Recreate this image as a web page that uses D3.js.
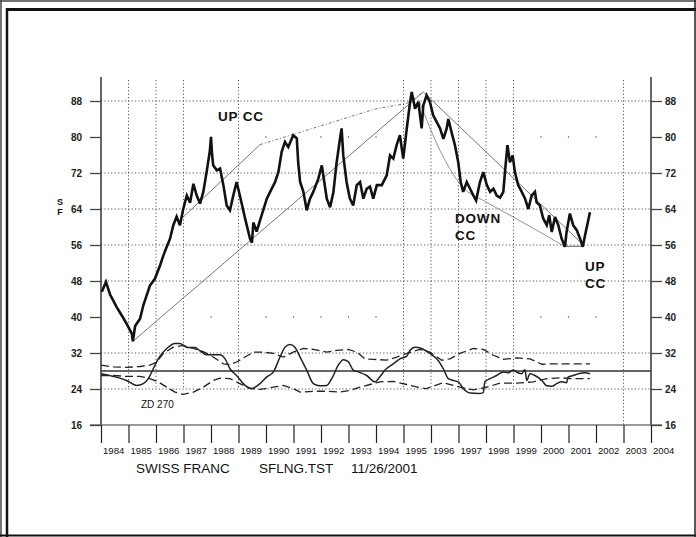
<!DOCTYPE html>
<html><head><meta charset="utf-8">
<script src="https://cdn.jsdelivr.net/npm/d3@7"></script>
<style>
html,body{margin:0;padding:0;background:#fff;}
svg{display:block;font-family:"Liberation Sans",Arial,sans-serif;}
</style></head>
<body>
<svg id="chart" width="696" height="537"></svg>
<script>
// ---------- data ----------
const yearTicks = [1984,1985,1986,1987,1988,1989,1990,1991,1992,1993,1994,1995,1996,1997,1998,1999,2000,2001,2002,2003,2004];
const valueTicks = [16,24,32,40,48,56,64,72,80,88];
const gridYears = [1985,1986,1987,1989,1995,1996,1997,1998,1999,2003];
const dotYears = [1988,1990,1991,1992,1993,1994,2000,2001,2002];
const fullGridValues = [24,32,48,56,64,72,88];
const sparseGridValues = [40,80];

const priceYears = [1984.03,1984.18,1984.33,1984.57,1984.75,1984.93,1985.12,1985.16,1985.24,1985.42,1985.54,1985.66,1985.78,1985.96,1986.15,1986.27,1986.39,1986.51,1986.63,1986.75,1986.87,1986.99,1987.12,1987.24,1987.36,1987.48,1987.6,1987.72,1987.84,1987.96,1988.0,1988.04,1988.08,1988.21,1988.33,1988.45,1988.57,1988.69,1988.81,1988.93,1989.05,1989.24,1989.42,1989.49,1989.54,1989.66,1989.84,1990.03,1990.15,1990.33,1990.45,1990.57,1990.69,1990.81,1990.99,1991.12,1991.17,1991.24,1991.36,1991.48,1991.6,1991.72,1991.9,1992.03,1992.08,1992.21,1992.33,1992.45,1992.57,1992.69,1992.75,1992.81,1992.93,1993.05,1993.17,1993.3,1993.42,1993.54,1993.66,1993.78,1993.9,1994.03,1994.21,1994.39,1994.51,1994.63,1994.75,1994.87,1994.99,1995.12,1995.24,1995.3,1995.42,1995.54,1995.66,1995.72,1995.84,1995.96,1996.08,1996.21,1996.33,1996.45,1996.57,1996.63,1996.75,1996.87,1996.99,1997.08,1997.17,1997.3,1997.42,1997.54,1997.64,1997.78,1997.9,1998.03,1998.15,1998.27,1998.39,1998.51,1998.63,1998.69,1998.78,1998.87,1998.97,1999.05,1999.17,1999.3,1999.42,1999.54,1999.66,1999.78,1999.84,1999.96,2000.08,2000.21,2000.3,2000.39,2000.51,2000.63,2000.75,2000.87,2000.93,2001.05,2001.17,2001.3,2001.42,2001.52,2001.6,2001.68,2001.78];
const priceValues = [45.6,47.8,45.0,42.2,40.4,38.5,36.3,34.6,38.0,39.6,42.6,44.8,47.0,48.5,51.5,53.7,55.6,57.4,60.4,62.3,60.4,64.0,67.0,65.4,69.6,67.0,65.2,67.8,72.2,77.0,80.0,76.0,73.7,72.6,73.0,69.3,64.8,63.7,67.0,70.0,67.0,61.9,57.4,56.5,61.0,59.0,62.6,66.3,67.8,70.0,72.2,76.7,78.9,77.8,80.4,79.7,74.4,70.0,67.8,63.7,66.3,67.8,70.7,73.7,71.6,66.3,64.4,67.7,74.4,79.6,81.9,75.9,70.0,66.3,64.8,69.3,70.0,66.3,68.5,69.0,66.3,69.3,69.3,71.5,75.9,75.2,78.2,80.4,75.2,81.9,87.8,90.0,86.3,87.8,81.9,87.0,89.3,87.8,84.8,83.3,81.9,79.6,81.9,84.0,81.0,78.2,74.4,70.0,67.8,70.0,68.5,67.0,65.9,70.0,72.2,69.3,67.8,68.5,67.0,66.5,67.8,72.2,78.2,74.4,75.9,72.2,69.3,67.8,66.3,64.0,67.0,67.8,65.5,64.8,61.9,60.4,62.6,58.9,62.2,60.4,57.4,55.6,58.9,63.0,60.4,59.3,57.4,55.6,58.1,60.4,63.3];

// trend curves (year, value)
const upLineYears = [1985.16,1995.72];
const upLineValues = [34.6,90.0];
const upCurveYears = [1986.99,1989.78];
const upCurveValues = [62.2,78.3];
const upCurveDotYears = [1989.78,1993.96,1995.13,1995.72];
const upCurveDotValues = [78.3,86.2,87.5,90.0];
const downLineYears = [1995.72,2001.54];
const downLineValues = [90.0,56.0];
const downCurveYears = [1995.56,1996.33,1997.13,1997.96,1998.76,1999.78,2000.8];
const downCurveValues = [88.2,77.0,69.0,65.7,63.0,59.5,55.9];
const baseLineYears = [2000.8,2001.53];
const baseLineValues = [55.7,55.7];

// lower indicator
const zdLevel = 28;
const oscYears = [1984.0,1984.45,1984.93,1985.3,1985.54,1985.72,1985.9,1986.08,1986.39,1986.69,1986.87,1987.05,1987.17,1987.42,1987.6,1987.84,1988.03,1988.33,1988.51,1988.69,1988.93,1989.24,1989.48,1989.78,1990.03,1990.27,1990.51,1990.69,1990.87,1991.05,1991.24,1991.48,1991.72,1991.96,1992.21,1992.39,1992.63,1992.81,1992.99,1993.17,1993.36,1993.66,1993.96,1994.15,1994.33,1994.63,1994.87,1995.12,1995.24,1995.42,1995.66,1995.96,1996.21,1996.45,1996.63,1996.81,1996.99,1997.17,1997.42,1997.72,1997.9,1997.96,1998.15,1998.39,1998.63,1998.81,1998.99,1999.17,1999.3,1999.42,1999.48,1999.6,1999.78,2000.03,2000.21,2000.39,2000.57,2000.75,2000.93,2000.99,2001.17,2001.36,2001.6,2001.78];
const oscValues = [27.4,26.8,25.9,24.8,25.2,26.3,28.5,30.7,33.0,34.1,34.1,33.5,33.2,33.2,32.5,31.6,31.6,31.6,30.7,28.5,27.0,24.8,24.1,25.2,26.7,27.8,31.1,33.3,33.9,33.3,31.1,28.2,25.2,24.7,24.8,26.3,29.3,30.5,30.1,28.2,27.8,27.0,25.6,26.8,28.2,29.6,30.7,31.3,32.6,33.3,33.0,31.9,30.7,28.5,26.3,25.9,25.6,24.1,23.1,23.0,23.2,25.6,26.3,27.0,27.8,27.6,28.2,27.6,27.4,28.3,25.9,27.4,27.0,25.9,24.7,24.6,25.2,25.6,25.4,26.7,27.0,27.4,27.6,27.4];
const upperBandYears = [1984.0,1984.45,1984.93,1985.42,1985.78,1986.03,1986.27,1986.63,1986.99,1987.36,1987.72,1988.08,1988.45,1988.69,1988.93,1989.24,1989.54,1989.9,1990.27,1990.63,1990.99,1991.36,1991.72,1992.21,1992.57,1992.99,1993.3,1993.6,1993.9,1994.39,1994.75,1995.12,1995.6,1995.96,1996.39,1996.69,1997.05,1997.54,1997.9,1998.27,1998.63,1999.12,1999.6,2000.03,2000.45,2000.93,2001.42,2001.78];
const upperBandValues = [29.3,28.9,28.8,29.0,29.3,30.0,31.9,33.3,33.7,33.0,32.3,31.1,29.6,29.4,30.0,31.1,32.2,32.2,31.9,31.1,32.2,33.0,32.8,32.2,32.6,32.8,32.2,30.7,30.6,30.4,31.1,31.9,32.8,32.2,30.4,30.7,31.9,33.0,32.8,31.5,30.6,30.9,30.7,29.5,29.6,29.6,29.6,29.6];
const lowerBandYears = [1984.0,1984.45,1984.93,1985.42,1985.78,1986.08,1986.39,1986.69,1986.99,1987.36,1987.72,1988.08,1988.33,1988.69,1989.05,1989.42,1989.78,1990.27,1990.63,1990.99,1991.24,1991.72,1992.21,1992.69,1993.05,1993.42,1993.78,1994.15,1994.63,1995.12,1995.6,1995.84,1996.45,1997.05,1997.54,1998.03,1998.51,1999.12,1999.72,2000.21,2000.69,2001.17,2001.78];
const lowerBandValues = [27.0,27.0,26.8,26.8,26.3,25.6,24.4,23.3,22.8,23.3,24.4,25.9,26.4,26.3,25.2,24.1,23.9,24.4,24.8,24.1,23.3,23.5,23.5,23.3,23.7,24.4,25.0,25.6,25.7,25.0,24.3,24.1,25.4,24.4,23.8,24.4,25.3,25.3,25.6,26.3,26.5,26.3,26.3];

// ---------- drawing ----------
const svg = d3.select("#chart");
const x = d3.scaleLinear().domain([1984, 2004]).range([101, 651]);
const y = d3.scaleLinear().domain([16, 88]).range([425, 101]);
const zip = (xs, vs) => xs.map((t, i) => [t, vs[i]]);
const line = d3.line().x(d => x(d[0])).y(d => y(d[1]));

// frame
const frame = svg.append("g");
frame.append("line").attr("x1",0).attr("x2",696).attr("y1",1).attr("y2",1).attr("stroke","#444").attr("stroke-width",1.5);
frame.append("line").attr("x1",1).attr("x2",1).attr("y1",0).attr("y2",537).attr("stroke","#444").attr("stroke-width",1.5);
frame.append("line").attr("x1",6).attr("x2",696).attr("y1",9.5).attr("y2",9.5).attr("stroke","#111").attr("stroke-width",3);
frame.append("line").attr("x1",7).attr("x2",7).attr("y1",8).attr("y2",537).attr("stroke","#111").attr("stroke-width",2.5);
frame.append("line").attr("x1",0).attr("x2",696).attr("y1",535.5).attr("y2",535.5).attr("stroke","#111").attr("stroke-width",2);
frame.append("line").attr("x1",695).attr("x2",695).attr("y1",0).attr("y2",537).attr("stroke","#222").attr("stroke-width",1.5);

// grid
const grid = svg.append("g").attr("stroke","#444").attr("stroke-width",0.9).attr("stroke-dasharray","1.2,2.2");
fullGridValues.forEach(v => grid.append("line").attr("x1",x(1984)).attr("x2",x(2004)).attr("y1",y(v)).attr("y2",y(v)));
gridYears.forEach(t => grid.append("line").attr("x1",x(t)).attr("x2",x(t)).attr("y1",80).attr("y2", t===2003 ? y(16) : y(24)));
const dots = svg.append("g").attr("fill","#444");
sparseGridValues.forEach(v => dotYears.forEach(t => dots.append("rect").attr("x",x(t)-0.6).attr("y",y(v)-0.6).attr("width",1.2).attr("height",1.2)));

// axes
const axisG = svg.append("g");
axisG.append("line").attr("x1",x(1984)).attr("x2",x(1984)).attr("y1",77).attr("y2",y(16)).attr("stroke","#333").attr("stroke-width",1.5);
axisG.append("line").attr("x1",x(2004)).attr("x2",x(2004)).attr("y1",77).attr("y2",y(16)).attr("stroke","#333").attr("stroke-width",1.5);
axisG.append("line").attr("x1",x(1984)-11).attr("x2",x(2004)+11).attr("y1",y(16)).attr("y2",y(16)).attr("stroke","#777").attr("stroke-width",1.5);

const leftAxis = d3.axisLeft(y).tickValues(valueTicks).tickSize(11).tickSizeOuter(0).tickPadding(8);
const gl = svg.append("g").attr("transform",`translate(${x(1984)},0)`).call(leftAxis);
const rightAxis = d3.axisRight(y).tickValues(valueTicks).tickSize(11).tickSizeOuter(0).tickPadding(3);
const gr = svg.append("g").attr("transform",`translate(${x(2004)},0)`).call(rightAxis);
[gl, gr].forEach(g => {
  g.select(".domain").remove();
  g.selectAll(".tick line").attr("stroke","#444").attr("stroke-width",1.3);
  g.selectAll(".tick text").attr("fill","#222").style("font-size","10px").style("font-weight","bold").style("font-family","'Liberation Sans',Arial,sans-serif");
});

const bottomAxis = d3.axisBottom(x).tickValues(yearTicks).tickSize(18).tickSizeOuter(0).tickFormat(d3.format("d"));
const gb = svg.append("g").attr("transform",`translate(0,${y(16)})`).call(bottomAxis);
gb.select(".domain").remove();
gb.selectAll(".tick line").attr("stroke","#222").attr("stroke-width",1.2);
gb.selectAll(".tick text").attr("text-anchor","start").attr("x",1.5).attr("y",29).attr("dy",0)
  .attr("fill","#111").style("font-size","9.6px").style("font-family","'Liberation Sans',Arial,sans-serif");

// trend lines
const trend = svg.append("g").attr("fill","none").attr("stroke","#666").attr("stroke-width",0.9);
trend.append("path").attr("d", line(zip(upLineYears, upLineValues)));
trend.append("path").attr("d", line(zip(upCurveYears, upCurveValues)));
trend.append("path").attr("d", line(zip(upCurveDotYears, upCurveDotValues))).attr("stroke-dasharray","3,2,1,2");
trend.append("path").attr("d", line(zip(downLineYears, downLineValues)));
trend.append("path").attr("d", d3.line().x(d => x(d[0])).y(d => y(d[1])).curve(d3.curveMonotoneX)(zip(downCurveYears, downCurveValues))).attr("stroke","#888");
trend.append("path").attr("d", line(zip(baseLineYears, baseLineValues))).attr("stroke","#888").attr("stroke-width",1.4);

// price
svg.append("path").attr("d", line(zip(priceYears, priceValues)))
  .attr("fill","none").attr("stroke","#111").attr("stroke-width",2.6).attr("stroke-linejoin","miter").attr("stroke-miterlimit",3);

// indicator
svg.append("line").attr("x1",x(1984)).attr("x2",x(2004)).attr("y1",y(zdLevel)).attr("y2",y(zdLevel)).attr("stroke","#333").attr("stroke-width",1.6);
const ind = svg.append("g").attr("fill","none").attr("stroke","#222");
ind.append("path").attr("d", line(zip(upperBandYears, upperBandValues))).attr("stroke-width",1.3).attr("stroke-dasharray","8,4");
ind.append("path").attr("d", line(zip(lowerBandYears, lowerBandValues))).attr("stroke-width",1.3).attr("stroke-dasharray","8,4");
ind.append("path").attr("d", d3.line().x(d => x(d[0])).y(d => y(d[1])).curve(d3.curveMonotoneX)(zip(oscYears, oscValues))).attr("stroke-width",1.5);

// labels
const lab = svg.append("g").attr("fill","#111").style("font-family","'Liberation Sans',Arial,sans-serif").style("font-weight","bold");
lab.append("text").attr("x",60).attr("y",205).attr("text-anchor","middle").style("font-size","9px").text("S");
lab.append("text").attr("x",60).attr("y",214.5).attr("text-anchor","middle").style("font-size","9px").text("F");
lab.append("text").attr("x",218).attr("y",121).style("font-size","13.5px").style("letter-spacing","0.8px").text("UP CC");
lab.append("text").attr("x",455).attr("y",223).style("font-size","13.5px").style("letter-spacing","0.8px").text("DOWN");
lab.append("text").attr("x",455).attr("y",240).style("font-size","13.5px").style("letter-spacing","0.8px").text("CC");
lab.append("text").attr("x",585).attr("y",271).style("font-size","13.5px").style("letter-spacing","0.8px").text("UP");
lab.append("text").attr("x",585).attr("y",288).style("font-size","13.5px").style("letter-spacing","0.8px").text("CC");
lab.append("text").attr("x",141).attr("y",407.5).style("font-size","10px").style("font-weight","normal").text("ZD 270");
lab.append("text").attr("x",136).attr("y",473).style("font-size","13.5px").style("font-weight","normal").text("SWISS FRANC");
lab.append("text").attr("x",259).attr("y",473).style("font-size","13.5px").style("font-weight","normal").text("SFLNG.TST");
lab.append("text").attr("x",351).attr("y",473).style("font-size","13.5px").style("font-weight","normal").text("11/26/2001");
</script>
</body></html>
